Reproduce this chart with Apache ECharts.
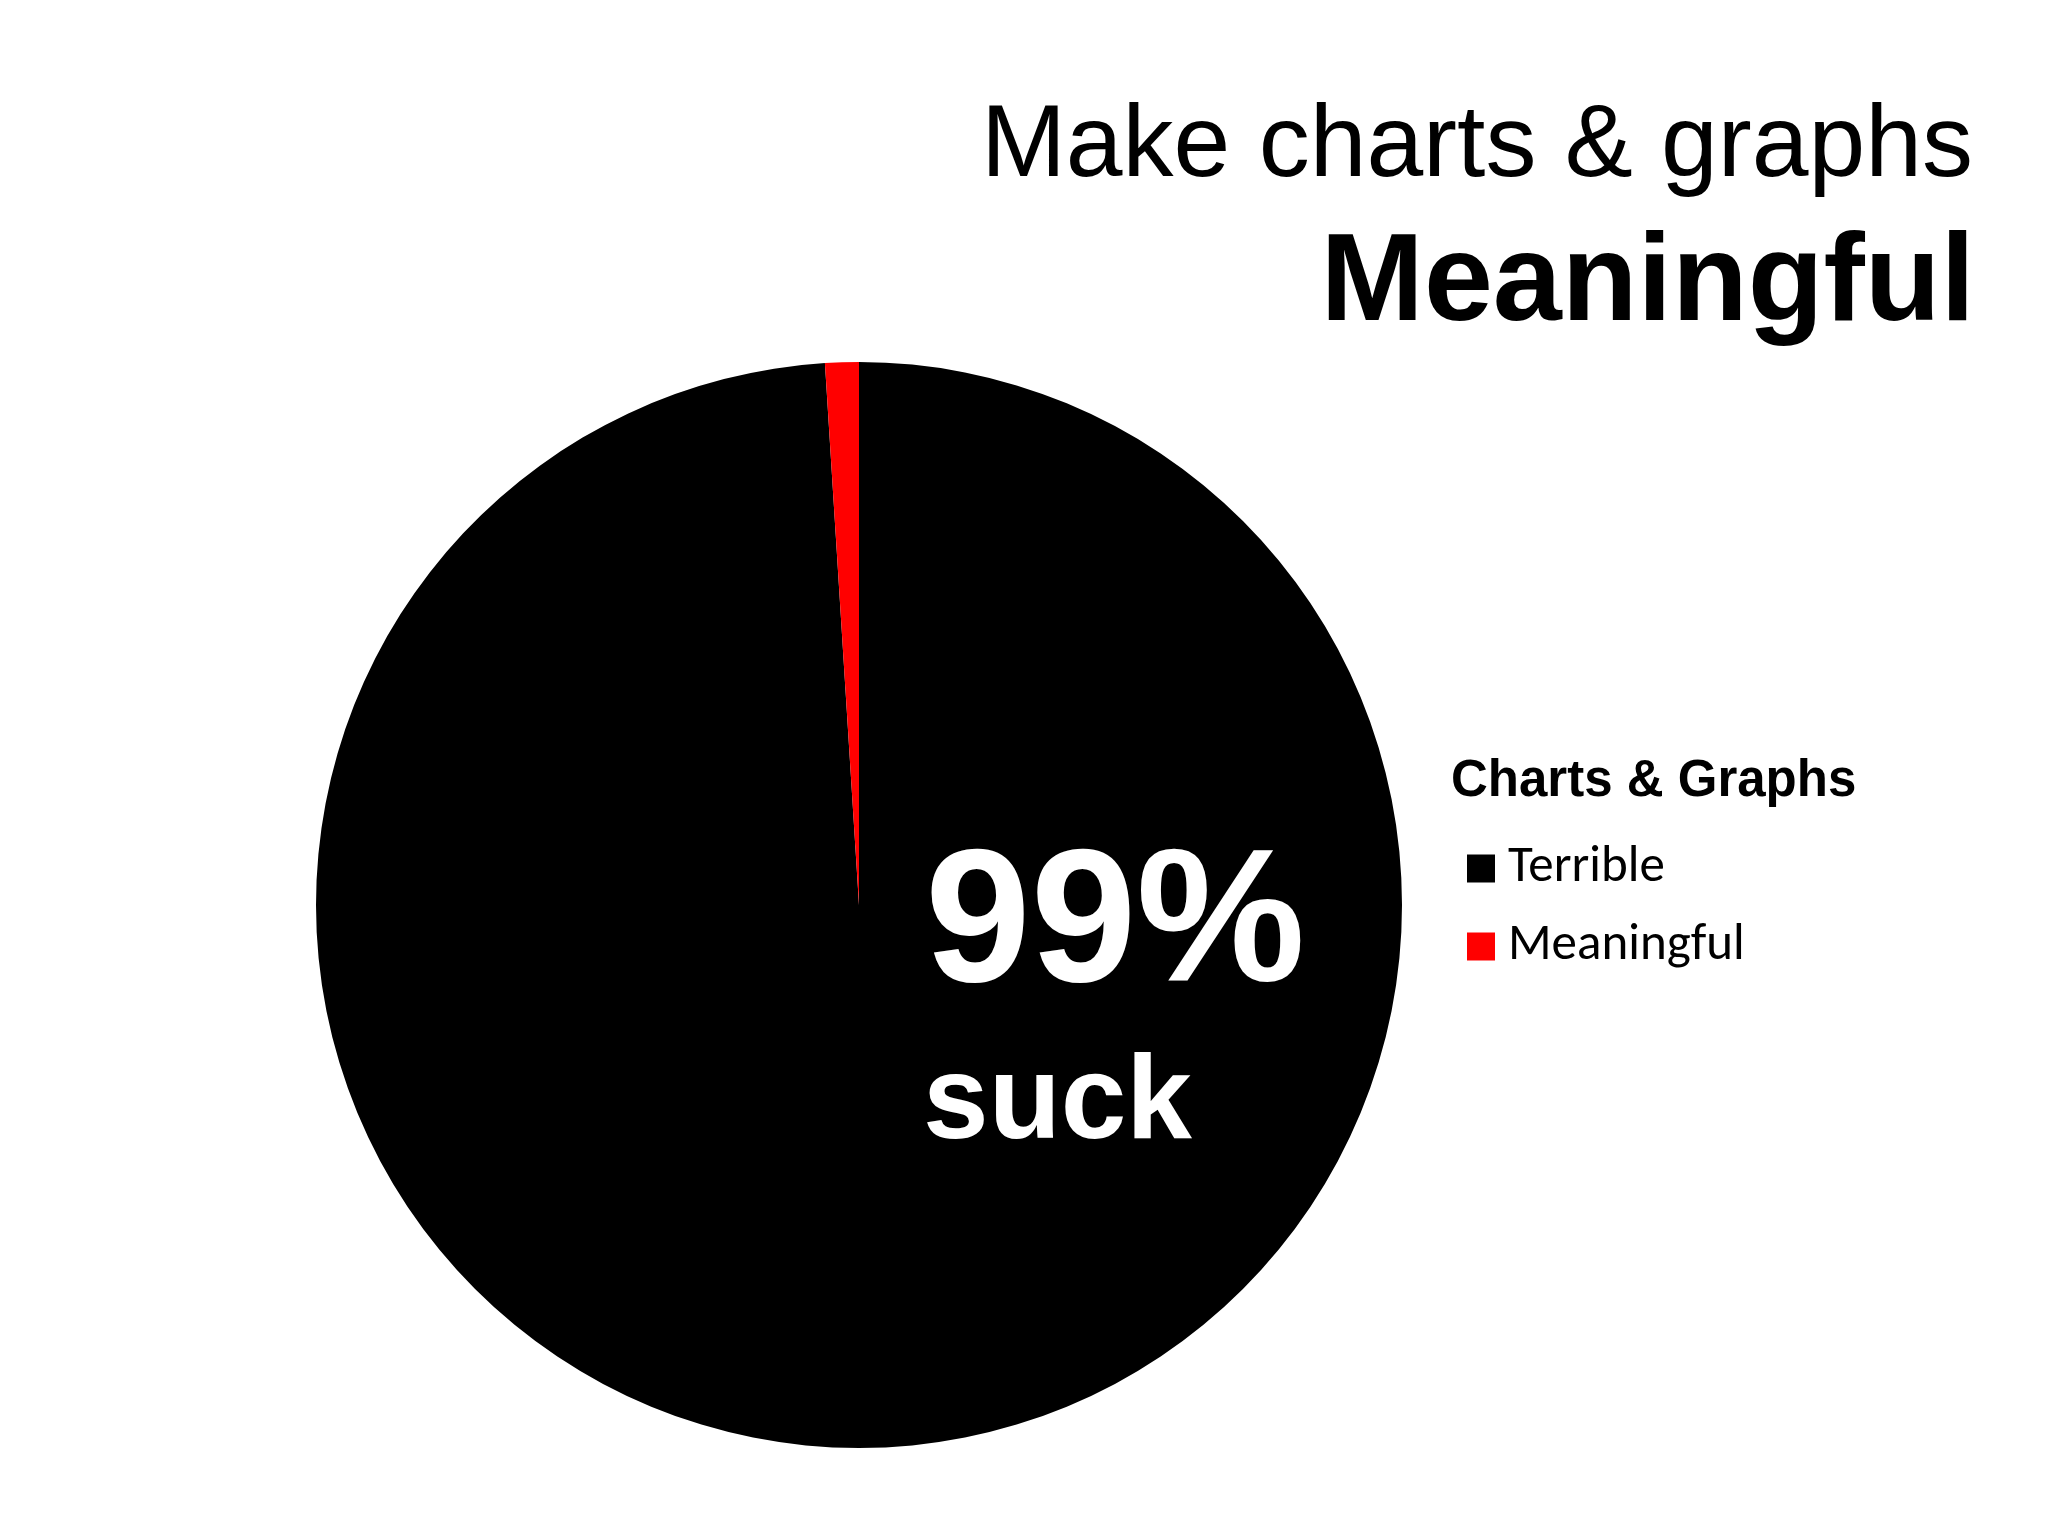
<!DOCTYPE html>
<html>
<head>
<meta charset="utf-8">
<title>Make charts & graphs Meaningful</title>
<script src="https://cdn.jsdelivr.net/npm/echarts@6/dist/echarts.min.js"></script>
<style>
  html, body { margin: 0; padding: 0; background: #fff; }
  #chart { width: 2048px; height: 1536px; }
</style>
</head>
<body>
<div id="chart"></div>
<script>
// data
var categories = ['Terrible', 'Meaningful'];
var values = [99, 1];
var colors = ['#000000', '#ff0000'];

var chart = echarts.init(document.getElementById('chart'));

var pieData = categories.map(function (name, i) {
  return { name: name, value: values[i], itemStyle: { color: colors[i] } };
});

var option = {
  backgroundColor: '#ffffff',
  animation: false,
  title: [
    {
      text: 'Make charts & graphs',
      right: 70, top: 92,
      textStyle: { fontFamily: 'Liberation Sans, Arial', fontWeight: 'normal', fontSize: 102, color: '#000' }
    },
    {
      text: 'Meaningful',
      right: 68, top: 219,
      textStyle: { fontFamily: 'Liberation Sans, Arial', fontWeight: 'bold', fontSize: 124, color: '#000' }
    },
    {
      text: values[0] + '%',
      left: 920, top: 829,
      textStyle: { fontFamily: 'Liberation Sans, Arial', fontWeight: 'bold', fontSize: 190, color: '#fff' }
    },
    {
      text: 'suck',
      left: 918, top: 1041,
      textStyle: { fontFamily: 'Liberation Sans, Arial', fontWeight: 'bold', fontSize: 118, color: '#fff' }
    },
    {
      text: 'Charts & Graphs',
      left: 1446, top: 751,
      textStyle: { fontFamily: 'Liberation Sans, Arial', fontWeight: 'bold', fontSize: 51, color: '#000' }
    }
  ],
  legend: {
    orient: 'vertical',
    left: 1462, top: 838,
    icon: 'rect',
    itemWidth: 28, itemHeight: 28,
    itemGap: 27,
    data: categories,
    textStyle: { fontFamily: 'Carlito, Lato, sans-serif', fontSize: 51, lineHeight: 51, color: '#000', padding: [0, 0, 0, 8] }
  },
  series: [{
    name: 'Charts & Graphs',
    type: 'pie',
    center: [859, 905],
    radius: 543,
    startAngle: 90,
    clockwise: true,
    label: { show: false },
    labelLine: { show: false },
    data: pieData
  }]
};

chart.setOption(option);
</script>
</body>
</html>
